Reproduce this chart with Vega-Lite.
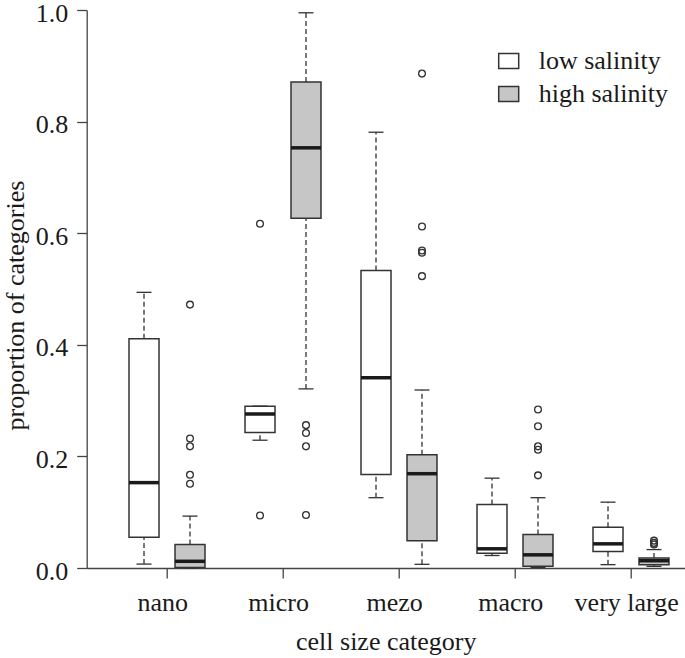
{
  "$schema": "https://vega.github.io/schema/vega-lite/v6.json",
  "width": 598,
  "height": 558,
  "autosize": {"type": "none"},
  "padding": {"left": 86.7, "top": 10, "right": 0.3, "bottom": 90},
  "background": "white",
  "config": {
    "view": {"stroke": null},
    "font": "Liberation Serif",
    "axis": {
      "labelFont": "Liberation Serif",
      "titleFont": "Liberation Serif",
      "labelFontSize": 26,
      "titleFontSize": 26,
      "titleFontWeight": "normal",
      "labelColor": "#1a1a1a",
      "titleColor": "#1a1a1a",
      "domainColor": "#444",
      "tickColor": "#444",
      "domainWidth": 1.3,
      "tickWidth": 1.3,
      "tickSize": 10,
      "grid": false
    },
    "legend": {
      "labelFont": "Liberation Serif",
      "labelFontSize": 26,
      "labelColor": "#1a1a1a"
    }
  },
  "datasets": {
    "boxes": [
      {"category": "nano", "salinity": "low salinity", "lower": 0.007, "q1": 0.055, "median": 0.153, "q3": 0.411, "upper": 0.494},
      {"category": "nano", "salinity": "high salinity", "lower": 0.0, "q1": 0.001, "median": 0.012, "q3": 0.042, "upper": 0.093},
      {"category": "micro", "salinity": "low salinity", "lower": 0.229, "q1": 0.243, "median": 0.276, "q3": 0.290, "upper": 0.290},
      {"category": "micro", "salinity": "high salinity", "lower": 0.321, "q1": 0.627, "median": 0.753, "q3": 0.871, "upper": 0.995},
      {"category": "mezo", "salinity": "low salinity", "lower": 0.126, "q1": 0.1675, "median": 0.341, "q3": 0.533, "upper": 0.781},
      {"category": "mezo", "salinity": "high salinity", "lower": 0.0066, "q1": 0.049, "median": 0.169, "q3": 0.203, "upper": 0.319},
      {"category": "macro", "salinity": "low salinity", "lower": 0.0224, "q1": 0.0265, "median": 0.0344, "q3": 0.114, "upper": 0.161},
      {"category": "macro", "salinity": "high salinity", "lower": 0.001, "q1": 0.003, "median": 0.0236, "q3": 0.060, "upper": 0.126},
      {"category": "very large", "salinity": "low salinity", "lower": 0.006, "q1": 0.0295, "median": 0.0433, "q3": 0.073, "upper": 0.118},
      {"category": "very large", "salinity": "high salinity", "lower": 0.003, "q1": 0.006, "median": 0.013, "q3": 0.018, "upper": 0.033}
    ],
    "outliers": [
      {"category": "nano", "salinity": "high salinity", "value": 0.472},
      {"category": "nano", "salinity": "high salinity", "value": 0.232},
      {"category": "nano", "salinity": "high salinity", "value": 0.218},
      {"category": "nano", "salinity": "high salinity", "value": 0.167},
      {"category": "nano", "salinity": "high salinity", "value": 0.151},
      {"category": "micro", "salinity": "low salinity", "value": 0.617},
      {"category": "micro", "salinity": "low salinity", "value": 0.094},
      {"category": "micro", "salinity": "high salinity", "value": 0.256},
      {"category": "micro", "salinity": "high salinity", "value": 0.242},
      {"category": "micro", "salinity": "high salinity", "value": 0.218},
      {"category": "micro", "salinity": "high salinity", "value": 0.095},
      {"category": "mezo", "salinity": "high salinity", "value": 0.886},
      {"category": "mezo", "salinity": "high salinity", "value": 0.612},
      {"category": "mezo", "salinity": "high salinity", "value": 0.569},
      {"category": "mezo", "salinity": "high salinity", "value": 0.565},
      {"category": "mezo", "salinity": "high salinity", "value": 0.523},
      {"category": "macro", "salinity": "high salinity", "value": 0.284},
      {"category": "macro", "salinity": "high salinity", "value": 0.254},
      {"category": "macro", "salinity": "high salinity", "value": 0.218},
      {"category": "macro", "salinity": "high salinity", "value": 0.212},
      {"category": "macro", "salinity": "high salinity", "value": 0.166},
      {"category": "very large", "salinity": "high salinity", "value": 0.049},
      {"category": "very large", "salinity": "high salinity", "value": 0.045},
      {"category": "very large", "salinity": "high salinity", "value": 0.042}
    ]
  },
  "encoding": {
    "x": {
      "field": "category",
      "type": "nominal",
      "sort": ["nano", "micro", "mezo", "macro", "very large"],
      "scale": {"paddingInner": 0, "paddingOuter": 0.0776, "align": 1},
      "axis": {
        "title": "cell size category",
        "labelAngle": 0,
        "labelPadding": 11,
        "bandPosition": 0.537,
        "titleBaseline": "alphabetic",
        "titleY": 81
      }
    },
    "xOffset": {
      "field": "salinity",
      "type": "nominal",
      "sort": ["low salinity", "high salinity"],
      "scale": {"paddingInner": 0.348, "paddingOuter": 0.435, "align": 0.6075}
    }
  },
  "layer": [
    {
      "data": {"name": "boxes"},
      "mark": {"type": "rule", "strokeDash": [5, 3], "color": "#333", "strokeWidth": 1.3},
      "encoding": {
        "y": {
          "field": "q3",
          "type": "quantitative",
          "scale": {"domain": [0, 1], "nice": false, "zero": false},
          "axis": {
            "title": "proportion of categories",
            "values": [0, 0.2, 0.4, 0.6, 0.8, 1.0],
            "format": ".1f",
            "labelPadding": 9,
            "labelOffset": 3,
            "titleBaseline": "alphabetic",
            "titleX": -63,
            "titleY": 295
          }
        },
        "y2": {"field": "upper"}
      }
    },
    {
      "data": {"name": "boxes"},
      "mark": {"type": "rule", "strokeDash": [5, 3], "color": "#333", "strokeWidth": 1.3},
      "encoding": {
        "y": {"field": "lower", "type": "quantitative"},
        "y2": {"field": "q1"}
      }
    },
    {
      "data": {"name": "boxes"},
      "mark": {"type": "tick", "orient": "horizontal", "size": 15, "thickness": 1.3, "color": "#333", "opacity": 1},
      "encoding": {
        "y": {"field": "upper", "type": "quantitative"}
      }
    },
    {
      "data": {"name": "boxes"},
      "mark": {"type": "tick", "orient": "horizontal", "size": 15, "thickness": 1.3, "color": "#333", "opacity": 1},
      "encoding": {
        "y": {"field": "lower", "type": "quantitative"}
      }
    },
    {
      "data": {"name": "boxes"},
      "mark": {"type": "rect", "stroke": "#333", "strokeWidth": 1.5, "opacity": 1},
      "encoding": {
        "y": {"field": "q1", "type": "quantitative"},
        "y2": {"field": "q3"},
        "fill": {
          "field": "salinity",
          "type": "nominal",
          "scale": {"domain": ["low salinity", "high salinity"], "range": ["#ffffff", "#c6c6c6"]},
          "legend": {
            "title": null,
            "orient": "none",
            "legendX": 409,
            "legendY": 38,
            "padding": 0,
            "symbolType": "M-1,-0.75H1V0.75H-1Z",
            "symbolSize": 400,
            "symbolStrokeColor": "#333",
            "symbolStrokeWidth": 1.5,
            "symbolOpacity": 1,
            "labelOffset": 17,
            "rowPadding": 7,
            "labelBaseline": "middle"
          }
        }
      }
    },
    {
      "data": {"name": "boxes"},
      "mark": {"type": "tick", "orient": "horizontal", "size": 30, "thickness": 3.5, "color": "#1a1a1a", "opacity": 1},
      "encoding": {
        "y": {"field": "median", "type": "quantitative"}
      }
    },
    {
      "data": {"name": "outliers"},
      "mark": {"type": "point", "shape": "circle", "filled": false, "stroke": "#333", "strokeWidth": 1.3, "size": 46, "opacity": 1},
      "encoding": {
        "y": {"field": "value", "type": "quantitative"}
      }
    }
  ]
}
